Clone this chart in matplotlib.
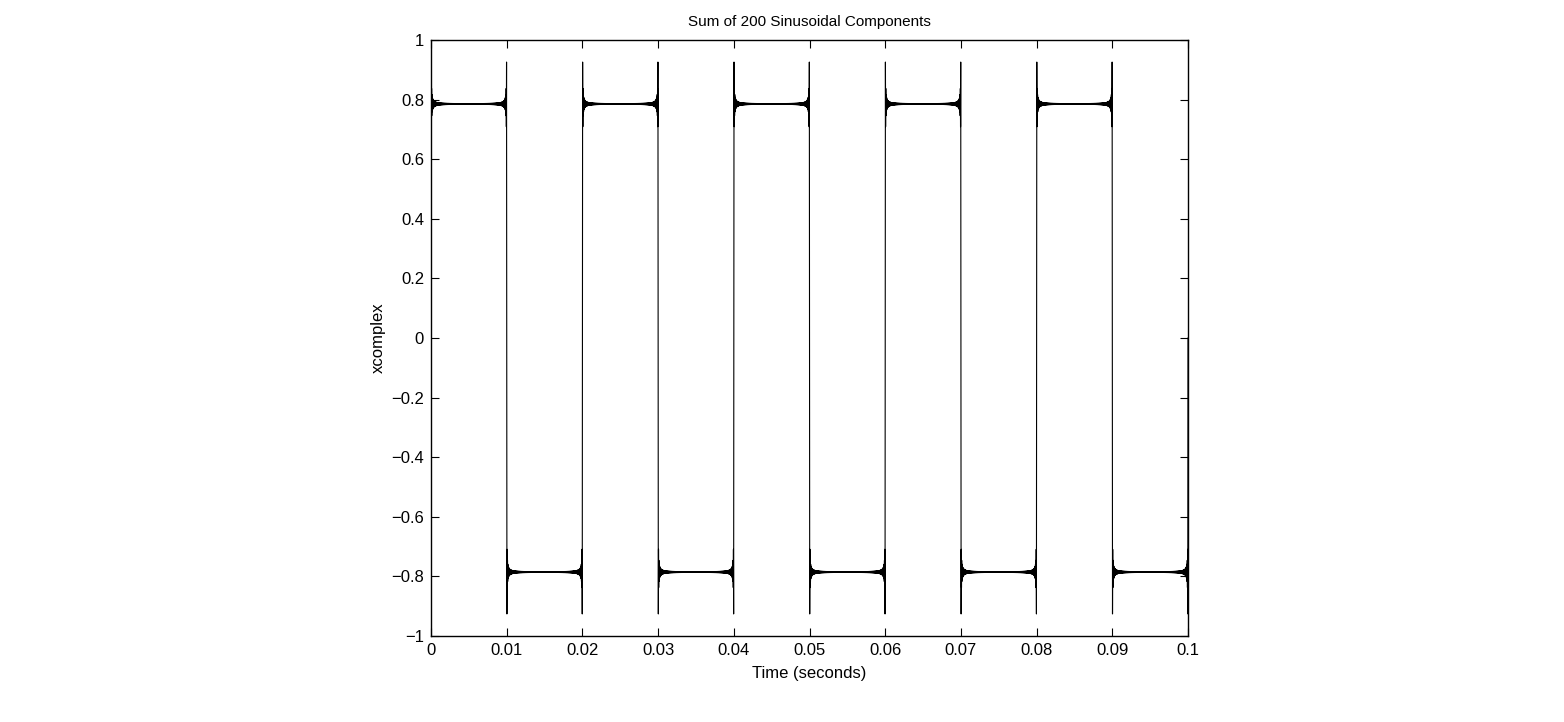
import numpy as np
import matplotlib
matplotlib.use("Agg")
import matplotlib.pyplot as plt

# Signal definition: sum of 200 odd-harmonic sinusoids (square-wave Fourier series)
fundamental_hz = 50.0
n_components = 200
harmonic_numbers = np.arange(1, 2 * n_components, 2)          # 1, 3, 5, ..., 399
harmonic_amplitudes = 1.0 / harmonic_numbers
t_start, t_stop, n_samples = 0.0, 0.1, 4001

x_ticks = [0, 0.01, 0.02, 0.03, 0.04, 0.05, 0.06, 0.07, 0.08, 0.09, 0.1]
x_ticklabels = ["0", "0.01", "0.02", "0.03", "0.04", "0.05", "0.06", "0.07", "0.08", "0.09", "0.1"]
y_ticks = [-1, -0.8, -0.6, -0.4, -0.2, 0, 0.2, 0.4, 0.6, 0.8, 1]
y_ticklabels = ["\u22121", "\u22120.8", "\u22120.6", "\u22120.4", "\u22120.2", "0", "0.2", "0.4", "0.6", "0.8", "1"]

t = np.linspace(t_start, t_stop, n_samples)
x = np.zeros_like(t)
for n, a in zip(harmonic_numbers, harmonic_amplitudes):
    x += a * np.sin(2 * np.pi * n * fundamental_hz * t)

plt.rcParams['font.family'] = ['Liberation Sans', 'DejaVu Sans']
fig = plt.figure(figsize=(15.64, 7.22), dpi=100)
ax = fig.add_axes([0.2756, 0.1191, 0.4840, 0.8255])
ax.plot(t, x, color='black', linewidth=0.8)
ax.set_xlim(0, 0.1)
ax.set_ylim(-1, 1)
ax.set_xticks(x_ticks)
ax.set_xticklabels(x_ticklabels)
ax.set_yticks(y_ticks)
ax.set_yticklabels(y_ticklabels)
ax.tick_params(direction='in', top=True, right=True, length=6, labelsize=12, width=0.8, pad=5)
for s in ax.spines.values():
    s.set_linewidth(1.0)
ax.set_title("Sum of 200 Sinusoidal Components", fontsize=11, pad=10)
ax.set_xlabel("Time (seconds)", fontsize=12, labelpad=6)
ax.set_ylabel("xcomplex", fontsize=12, labelpad=4)
fig.savefig("out.png", dpi=100, facecolor='white')
